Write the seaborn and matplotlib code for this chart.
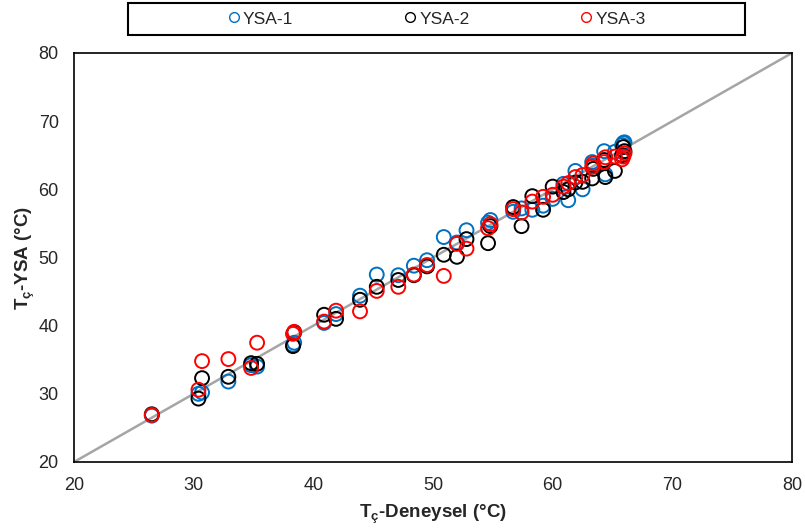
import numpy as np
import pandas as pd
import matplotlib
matplotlib.use("Agg")
import matplotlib.pyplot as plt
from matplotlib.lines import Line2D
from matplotlib.patches import Rectangle
import seaborn as sns

# deneysel değerler (x) ve üç YSA modelinin tahminleri (y)
deneysel = [26.5, 30.4, 30.7, 32.9, 34.8, 35.3, 38.3, 38.4, 40.9, 41.9,
            43.9, 45.3, 47.1, 48.4, 49.5, 50.9, 52.0, 52.8, 54.6, 54.8,
            56.7, 57.4, 58.3, 59.2, 60.0, 60.9, 61.3, 61.9, 62.5, 63.3,
            63.4, 64.3, 64.4, 65.2, 65.8, 65.9, 66.0]
ysa1 = [26.8, 30.0, 30.2, 31.8, 34.2, 34.0, 37.2, 37.5, 40.4, 41.7,
        44.4, 47.5, 47.4, 48.8, 49.6, 53.0, 52.2, 54.0, 55.1, 55.5,
        56.7, 57.2, 57.0, 57.6, 58.6, 60.8, 58.4, 62.7, 60.0, 64.0,
        63.5, 65.6, 62.2, 65.5, 66.5, 66.8, 66.9]
ysa2 = [27.0, 29.3, 32.3, 32.5, 34.5, 34.4, 37.0, 39.0, 41.6, 41.0,
        43.8, 45.7, 46.7, 47.4, 48.7, 50.4, 50.1, 52.7, 52.1, 54.6,
        57.4, 54.6, 59.0, 57.0, 60.4, 59.6, 60.0, 61.0, 61.1, 61.6,
        63.0, 64.3, 61.8, 62.7, 65.0, 66.2, 65.6]
ysa3 = [26.9, 30.6, 34.8, 35.1, 33.8, 37.5, 38.8, 39.1, 40.6, 42.2,
        42.1, 45.1, 45.7, 47.5, 48.9, 47.3, 52.0, 51.3, 54.3, 54.9,
        57.1, 56.6, 58.2, 58.9, 59.2, 60.4, 60.9, 61.8, 62.1, 63.3,
        63.8, 64.0, 64.7, 64.8, 64.4, 64.8, 65.3]

seriler = ['YSA-1', 'YSA-2', 'YSA-3']
renkler = ['#0070C0', '#000000', '#FF0000']

df = pd.concat([
    pd.DataFrame({'deneysel': deneysel, 'ysa': y, 'model': ad})
    for ad, y in zip(seriler, [ysa1, ysa2, ysa3])
], ignore_index=True)

sns.set_style("white")
plt.rcParams['font.family'] = ['Liberation Sans', 'DejaVu Sans']
plt.rcParams['mathtext.fontset'] = 'custom'
plt.rcParams['mathtext.rm'] = 'Liberation Sans:bold'
plt.rcParams['mathtext.bf'] = 'Liberation Sans:bold'

fig = plt.figure(figsize=(8.05, 5.31), dpi=100)
ax = fig.add_axes([74/805, 1-462/531, 718/805, 409/531])

# 1:1 doğrusu
ax.plot([20, 80], [20, 80], color='#A5A5A5', lw=1.8, zorder=1)

sns.scatterplot(data=df, x='deneysel', y='ysa', hue='model',
                palette=dict(zip(seriler, renkler)), s=100, linewidth=1.4,
                legend=False, ax=ax, zorder=2)

# içi boş daireler
for coll in ax.collections:
    fc = coll.get_facecolors()
    coll.set_edgecolors(fc)
    coll.set_facecolors('none')

ax.set_xlim(20, 80)
ax.set_ylim(20, 80)
ax.set_xticks(range(20, 81, 10))
ax.set_yticks(range(20, 81, 10))
ax.tick_params(length=0, labelsize=13, pad=11)
for s in ax.spines.values():
    s.set_color('black')
    s.set_linewidth(1.2)

ax.set_xlabel(r'T$_{\mathrm{ç}}$-Deneysel (°C)', fontsize=13.5, fontweight='bold', labelpad=6)
ax.set_ylabel(r'T$_{\mathrm{ç}}$-YSA (°C)', fontsize=13.5, fontweight='bold', labelpad=1)

# legend
handles = [Line2D([], [], ls='none', marker='o', markersize=7,
                  markerfacecolor='none', markeredgecolor=c, markeredgewidth=1)
           for c in renkler]
fig.legend(handles, seriler, loc='center', bbox_to_anchor=(437/805, 1-19/531),
           ncol=3, frameon=False, fontsize=12.5, handlelength=0.6,
           handletextpad=0.25, columnspacing=6.4)
fig.patches.append(Rectangle((128/805, 1-35/531), 617/805, 32/531,
                             transform=fig.transFigure, fill=False,
                             edgecolor='black', linewidth=1.5))

fig.savefig('out.png', dpi=100)
